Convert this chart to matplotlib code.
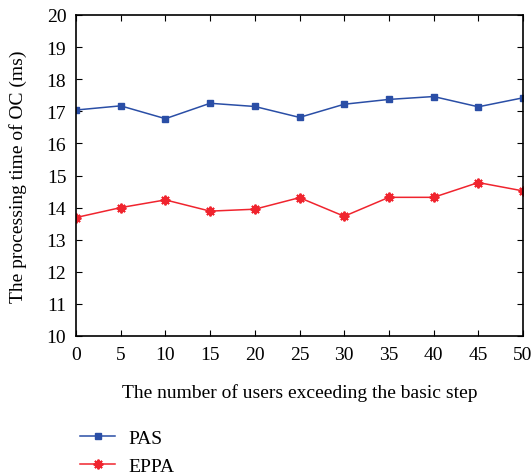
import numpy as np
import matplotlib.pyplot as plt

users = [0, 5, 10, 15, 20, 25, 30, 35, 40, 45, 50]
pas = [17.04, 17.17, 16.77, 17.25, 17.15, 16.81, 17.22, 17.37, 17.46, 17.14, 17.42]
eppa = [13.69, 14.00, 14.24, 13.89, 13.95, 14.31, 13.73, 14.32, 14.32, 14.78, 14.52]

plt.rcParams['font.family'] = ['Liberation Serif', 'DejaVu Serif']

fig = plt.figure(figsize=(5.32, 4.77), dpi=100)
ax = fig.add_axes([76 / 532, 1 - 337 / 477, (523 - 76) / 532, (337 - 16) / 477])

ax.plot(users, pas, color='#2a4ea6', marker='s', markersize=5, lw=1.1, label='PAS')
ax.plot(users, eppa, color='#f0242e', marker=(8, 2, 0), markersize=7, mew=1.4,
        lw=1.1, label='EPPA')

ax.set_xlim(0, 50)
ax.set_ylim(10, 20)
ax.set_xticks(range(0, 51, 5))
ax.set_yticks(range(10, 21))
ax.tick_params(direction='in', top=True, right=True, labelsize=14, length=4, pad=7)
for s in ax.spines.values():
    s.set_linewidth(1.2)

ax.set_xlabel('The number of users exceeding the basic step', fontsize=14, labelpad=15)
ax.set_ylabel('The processing time of OC (ms)', fontsize=14, labelpad=14)

ax.legend(loc='upper left', bbox_to_anchor=(-0.03, -0.235), frameon=False, fontsize=14,
          handlelength=1.8, handletextpad=0.7, labelspacing=0.55)

fig.savefig('out.png', dpi=100)
